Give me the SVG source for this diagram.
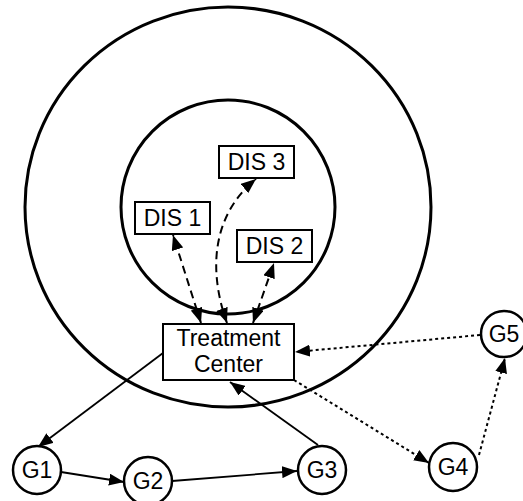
<svg xmlns="http://www.w3.org/2000/svg" width="523" height="501" viewBox="0 0 523 501">
<style>
  .ring { fill: none; stroke: #000; stroke-width: 3; }
  .box { fill: #fff; stroke: #000; stroke-width: 2; }
  .node { fill: #fff; stroke: #000; stroke-width: 2.5; }
  text { font-family: "Liberation Sans", Arial, sans-serif; font-size: 23px; fill: #000; text-anchor: middle; }
  .solid { fill: none; stroke: #000; stroke-width: 1.8; marker-end: url(#ah); }
  .dotted { fill: none; stroke: #000; stroke-width: 2; stroke-dasharray: 3 3; marker-end: url(#ah); }
  .dashed { fill: none; stroke: #000; stroke-width: 2; stroke-dasharray: 8 5; marker-start: url(#ah); marker-end: url(#ah); }
</style>
<defs>
  <marker id="ah" markerUnits="userSpaceOnUse" markerWidth="16" markerHeight="12" refX="15" refY="6" orient="auto-start-reverse" viewBox="0 0 16 12">
    <path d="M0,0 L15,6 L0,12 z" fill="#000"/>
  </marker>
</defs>
<g id="rings">
  <ellipse class="ring" cx="228" cy="207" rx="203" ry="200"/>
  <circle class="ring" cx="228" cy="207" r="107"/>
</g>
<g id="connectors">
  <line class="dashed" x1="201" y1="323" x2="173" y2="235"/>
  <path class="dashed" d="M227 323 C208 270 212 215 256 179"/>
  <line class="dashed" x1="253" y1="323" x2="274" y2="263"/>
  <line class="solid" x1="163" y1="353" x2="38" y2="447"/>
  <line class="solid" x1="61" y1="472" x2="124" y2="482"/>
  <line class="solid" x1="172" y1="481" x2="297" y2="471"/>
  <line class="solid" x1="318" y1="445" x2="230" y2="382"/>
  <line class="dotted" x1="294" y1="380" x2="429" y2="463"/>
  <line class="dotted" x1="479" y1="455" x2="505" y2="358"/>
  <line class="dotted" x1="480" y1="335" x2="295" y2="352"/>
</g>
<g id="DIS1"><rect class="box" x="135" y="202" width="75" height="32"/><text x="172.5" y="226">DIS 1</text></g>
<g id="DIS2"><rect class="box" x="237" y="230" width="75" height="32"/><text x="274.5" y="254">DIS 2</text></g>
<g id="DIS3"><rect class="box" x="219" y="146" width="75" height="32"/><text x="256.5" y="170">DIS 3</text></g>
<g id="TC"><rect class="box" x="163" y="324" width="131" height="56"/><text x="228.5" y="346">Treatment</text><text x="228.5" y="372">Center</text></g>
<g id="G1"><circle class="node" cx="37" cy="470" r="24"/><text x="37" y="478">G1</text></g>
<g id="G2"><circle class="node" cx="148" cy="481" r="24"/><text x="148" y="489">G2</text></g>
<g id="G3"><circle class="node" cx="322" cy="470" r="24"/><text x="322" y="478">G3</text></g>
<g id="G4"><circle class="node" cx="453" cy="467" r="24"/><text x="453" y="475">G4</text></g>
<g id="G5"><circle class="node" cx="504" cy="334" r="23"/><text x="504" y="342">G5</text></g>
</svg>
